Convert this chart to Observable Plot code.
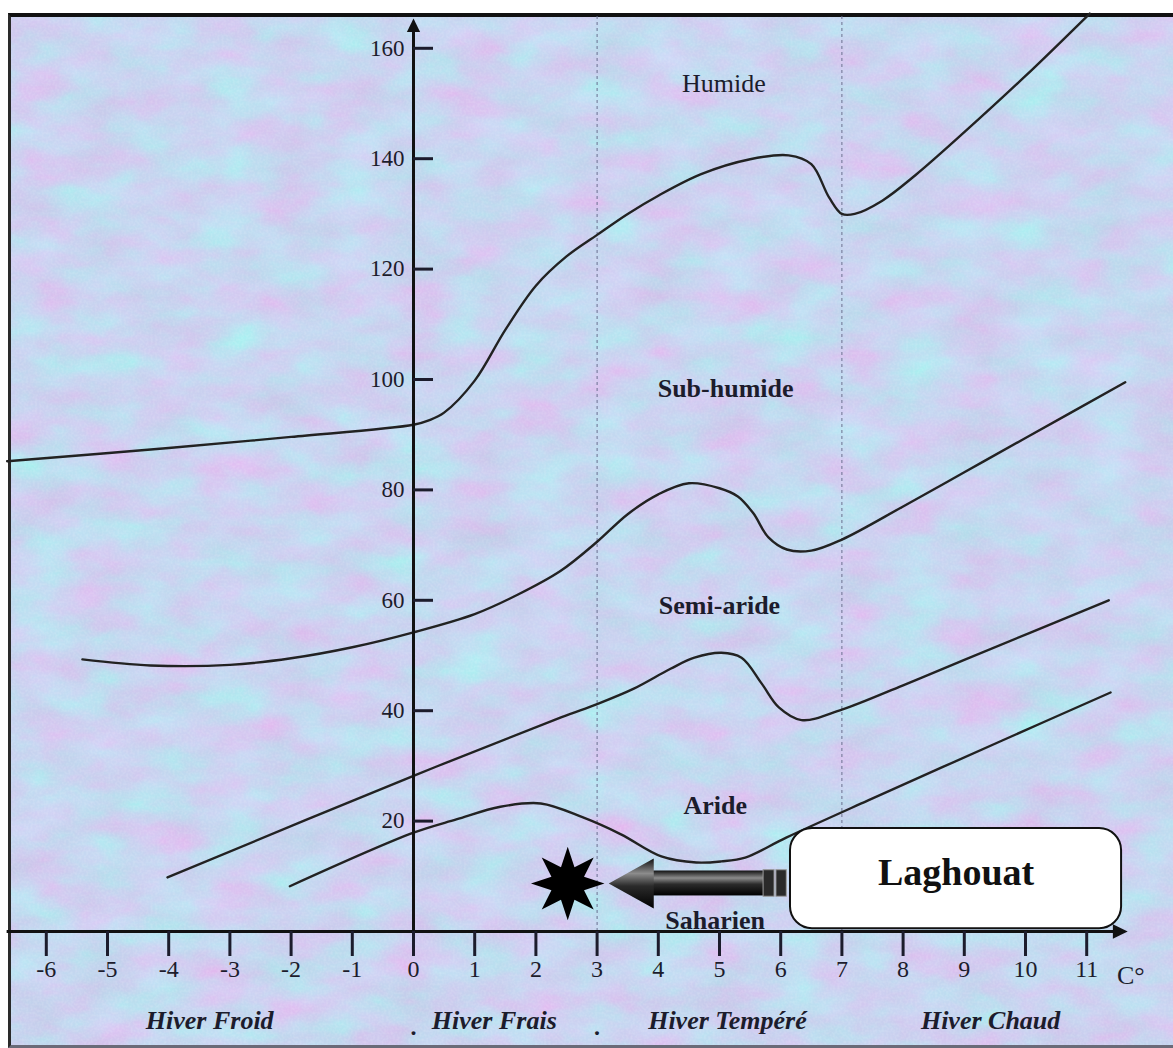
<!DOCTYPE html>
<html>
<head>
<meta charset="utf-8">
<script src="https://cdn.jsdelivr.net/npm/d3@7"></script>
<script src="https://cdn.jsdelivr.net/npm/@observablehq/plot@0.6"></script>
<style>
  html, body { margin: 0; padding: 0; background: #ffffff; }
  #wrap { position: absolute; left: 0; top: 0; width: 1173px; height: 1048px; overflow: hidden; }
  #frame { position: absolute; left: 8px; top: 13px; width: 1165px; height: 1035px; box-sizing: border-box;
           border-top: 4px solid #111; border-left: 3px solid #2a2a2a; border-bottom: 3px solid #6a6a78;
           background-color: #c8d5f0; }
  #chart { position: absolute; left: 0; top: 0; }
</style>
</head>
<body>
<div id="wrap"><div id="frame"></div><div id="chart"></div></div>
<script>
// ---------- DATA ----------
const xTicks = [-6, -5, -4, -3, -2, -1, 0, 1, 2, 3, 4, 5, 6, 7, 8, 9, 10, 11];
const yTicks = [20, 40, 60, 80, 100, 120, 140, 160];
const unitLabel = "C°";

// Boundary curves (x = m in °C, y = Q2)
const limitHumide = [[-6.64, 85.2], [-4, 87.6], [-2, 89.6], [0, 91.8], [0.25, 92.6], [0.5, 94.0], [1.0, 99.8], [1.5, 109.0], [2.0, 117.0], [2.5, 122.3], [3.0, 126.2], [3.5, 130.0], [4.0, 133.3], [4.7, 137.2], [5.5, 139.9], [6.13, 140.6], [6.5, 139], [6.79, 133], [7.0, 130], [7.21, 130], [7.66, 132.4], [8.2, 137], [9, 144.8], [10, 155], [11.05, 166.3]];
const limitSubHumide = [[-5.41, 49.3], [-4.3, 48.2], [-3, 48.3], [-2, 49.5], [-1, 51.5], [0, 54.2], [1, 57.5], [1.7, 61], [2.4, 65.3], [3.0, 70.6], [3.5, 75.6], [4.0, 79.2], [4.5, 81.2], [5.0, 80.3], [5.3, 78.8], [5.55, 75.8], [5.8, 71.4], [6.1, 69.2], [6.5, 69], [7, 71], [8, 77], [9, 83.2], [10, 89.4], [11.63, 99.5]];
const limitSemiAride = [[-4.02, 9.8], [0, 28.2], [2.41, 38.8], [3.0, 41.2], [3.6, 44], [4.2, 47.6], [4.59, 49.6], [5.03, 50.5], [5.36, 49.6], [5.69, 44.9], [5.97, 40.6], [6.34, 38.3], [7, 40.2], [8, 44.6], [9, 49.2], [11.36, 60]];
const limitAride = [[-2.02, 8.2], [0, 17.9], [0.7, 20.3], [1.42, 22.6], [2.08, 23.2], [2.76, 20.7], [3.39, 17.6], [4.05, 13.6], [4.62, 12.5], [5.03, 12.7], [5.42, 13.4], [6.09, 17], [7.42, 23.7], [9.62, 34.6], [11.39, 43.3]];

const zoneNames = ["Humide", "Sub-humide", "Semi-aride", "Aride", "Saharien"];
const zoneX = [5.07, 5.1, 5.0, 4.93, 4.93];
const zoneY = [153.6, 98.4, 59, 22.8, 2.0];

const winterNames = ["Hiver Froid", "Hiver Frais", "Hiver Tempéré", "Hiver Chaud"];
const winterX = [-3.33, 1.32, 5.13, 9.43];
const winterDividers = [0, 3];
const winterLimits = [3, 7];

const stationName = "Laghouat";
const stationX = 2.52;
const stationY = 8.7;
const calloutBox = {x1: 6.16, x2: 11.57, y1: 0.5, y2: 18.66};
const arrowTipX = 3.19, arrowHeadBackX = 3.92, arrowTailX = 5.72;
const connectorSegments = [[5.72, 5.9], [5.93, 6.1]];

// ---------- build ----------
const curves = [
  ["humide", limitHumide], ["subhumide", limitSubHumide], ["semiaride", limitSemiAride], ["aride", limitAride]
].flatMap(([id, pts]) => pts.map(([x, y]) => ({id, x, y})));
const zones = zoneNames.map((name, i) => ({name, x: zoneX[i], y: zoneY[i]}));
const winters = winterNames.map((name, i) => ({name, x: winterX[i]}));

// background texture (subtle pink / cyan mottling on periwinkle)
const bgSvg = `<svg xmlns='http://www.w3.org/2000/svg' width='1165' height='1035'>
<filter id='f' x='0' y='0' width='100%' height='100%' color-interpolation-filters='sRGB'>
<feTurbulence type='fractalNoise' baseFrequency='0.016 0.03' numOctaves='4' seed='7'/>
<feColorMatrix type='matrix' values='0.2 -0.14 0 0 0.75  -0.12 0.2 0 0 0.79  0.04 0.04 0 0 0.9  0 0 0 0 1'/></filter>
<filter id='g' x='0' y='0' width='100%' height='100%' color-interpolation-filters='sRGB'>
<feTurbulence type='fractalNoise' baseFrequency='0.45' numOctaves='1' seed='3'/>
<feColorMatrix type='matrix' values='0 0 0 0 1  0 0 0 0 1  0 0 0 0 1  0.8 0 0 0 -0.3'/></filter>
<rect width='100%' height='100%' filter='url(#f)'/>
<rect width='100%' height='100%' filter='url(#g)' opacity='0.4'/>
</svg>`;
document.getElementById("frame").style.backgroundImage = `url("data:image/svg+xml,${encodeURIComponent(bgSvg)}")`;

// custom symbols
const star8 = {
  draw(ctx, size) {
    const R = Math.sqrt(size / Math.PI) * 1.75, r = R * 0.48;
    for (let i = 0; i < 16; i++) {
      const a = i * Math.PI / 8 - Math.PI / 2, rr = i % 2 ? r : R;
      const px = rr * Math.cos(a), py = rr * Math.sin(a);
      i ? ctx.lineTo(px, py) : ctx.moveTo(px, py);
    }
    ctx.closePath();
  }
};
// tip at origin pointing left
const headLeft = {
  draw(ctx, size) {
    const s = Math.sqrt(size / Math.PI);
    ctx.moveTo(0, 0); ctx.lineTo(4.5 * s, -2.5 * s); ctx.lineTo(4.5 * s, 2.5 * s); ctx.closePath();
  }
};
const smallHead = {
  draw(ctx, size) {
    const s = Math.sqrt(size / Math.PI);
    ctx.moveTo(0, 0); ctx.lineTo(4.5 * s, -2.2 * s); ctx.lineTo(4.5 * s, 2.2 * s); ctx.closePath();
  }
};

const serif = "'Liberation Serif', 'Times New Roman', serif";
const ink = "#1c1c2c";

const defsMark = () => {
  const defs = document.createElementNS("http://www.w3.org/2000/svg", "defs");
  defs.innerHTML = `<linearGradient id="shaftGrad" x1="0" y1="0" x2="0" y2="1">
    <stop offset="0" stop-color="#111"/><stop offset="0.3" stop-color="#8c8c8c"/>
    <stop offset="0.55" stop-color="#2b2b2b"/><stop offset="1" stop-color="#000"/></linearGradient>`;
  return defs;
};

const chart = Plot.plot({
  width: 1173,
  height: 1048,
  marginLeft: 45.8,
  marginRight: 86.8,
  marginTop: 47.8,
  marginBottom: 117,
  x: {domain: [-6, 11], label: null},
  y: {domain: [0, 160], label: null},
  style: {background: "transparent", overflow: "visible", fontFamily: serif, color: ink},
  marks: [
    defsMark,
    // winter limits (dashed)
    Plot.ruleX(winterLimits, {y1: 0, y2: 166, stroke: "#6b7090", strokeWidth: 1, strokeDasharray: "3,3"}),
    // boundary curves
    Plot.line(curves, {x: "x", y: "y", z: "id", curve: "catmull-rom", stroke: "#222", strokeWidth: 2.4}),
    // zone labels
    Plot.text(zones.filter(d => d.name === "Humide"), {x: "x", y: "y", text: "name", fontSize: 26, fill: ink, fontFamily: serif}),
    Plot.text(zones.filter(d => d.name !== "Humide"), {x: "x", y: "y", text: "name", fontSize: 26, fontWeight: "bold", fill: ink, fontFamily: serif}),
    // callout box
    Plot.rect([calloutBox], {x1: "x1", x2: "x2", y1: "y1", y2: "y2", fill: "white", stroke: "#111", strokeWidth: 2, rx: 22}),
    Plot.text([stationName], {x: (calloutBox.x1 + calloutBox.x2) / 2, y: 10.7, text: d => d, fontSize: 38, fontWeight: "bold", fill: "#111", fontFamily: serif}),
    // arrow towards the station
    Plot.rect([{x1: arrowHeadBackX - 0.05, x2: arrowTailX}], {x1: "x1", x2: "x2", y1: stationY - 2.26, y2: stationY + 2.26, fill: "url(#shaftGrad)"}),
    Plot.rect(connectorSegments, {x1: d => d[0], x2: d => d[1], y1: stationY - 2.4, y2: stationY + 2.4, fill: "#2a2a2a", stroke: "#9a9a9a", strokeWidth: 1}),
    Plot.dot([stationY], {x: arrowTipX, y: d => d, symbol: headLeft, r: 10, fill: "url(#shaftGrad)", stroke: "none"}),
    // station star
    Plot.dot([{x: stationX, y: stationY}], {x: "x", y: "y", symbol: star8, r: 21, fill: "#000", stroke: "none"}),
    // axes lines + arrows
    Plot.ruleY([0], {x1: -6.64, x2: 11.45, stroke: "#111", strokeWidth: 3}),
    Plot.ruleX([0], {y1: 0, y2: 163.5, stroke: "#111", strokeWidth: 3}),
    Plot.dot([0], {x: 11.67, y: d => d, symbol: smallHead, r: 3.3, rotate: 180, fill: "#111", stroke: "none"}),
    Plot.dot([0], {x: d => d, y: 165.4, symbol: smallHead, r: 3.0, rotate: 90, fill: "#111", stroke: "none"}),
    // x axis
    Plot.axisX({anchor: "bottom", ticks: xTicks, tickFormat: d => `${d}`, tickSize: 25, tickPadding: 3,
                strokeWidth: 3, fontSize: 24, fontFamily: serif, color: ink, label: null}),
    Plot.text([unitLabel], {x: 11.72, y: 0, text: d => d, dy: 44, fontSize: 26, fill: ink, fontFamily: serif}),
    // y axis (ticks to the right of x = 0)
    Plot.axisY({anchor: "left", ticks: yTicks, tickFormat: d => `${d}`, tickSize: 20, tickPadding: 9,
                dx: 387.2, strokeWidth: 3, fontSize: 23, fontFamily: serif, color: ink, label: null}),
    // winter labels
    Plot.text(winters, {x: "x", y: 0, text: "name", dy: 89, fontSize: 26, fontWeight: "bold", fontStyle: "italic", fill: ink, fontFamily: serif}),
    Plot.text(winterDividers, {x: d => d, y: 0, text: () => ".", dy: 96, fontSize: 24, fontWeight: "bold", fill: ink, fontFamily: serif})
  ]
});
document.getElementById("chart").appendChild(chart);
</script>
</body>
</html>
